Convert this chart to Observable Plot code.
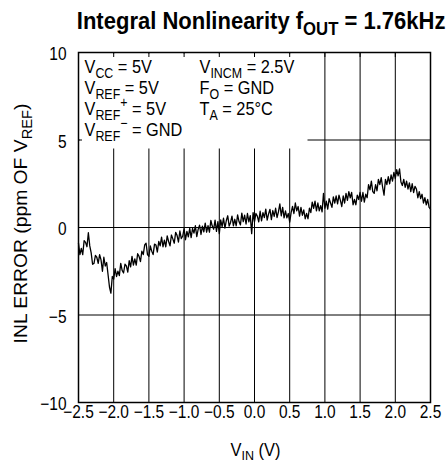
<!DOCTYPE html>
<html><head><meta charset="utf-8">
<script src="https://cdn.jsdelivr.net/npm/d3@7"></script>
<script src="https://cdn.jsdelivr.net/npm/@observablehq/plot@0.6"></script>
<style>
html,body{margin:0;padding:0;background:#fff;}
#chart svg{display:block;}
</style></head><body><div id="chart"></div>
<script>
const title = "Integral Nonlinearity f_{OUT} = 1.76kHz";
const xLabel = "V_{IN} (V)";
const yLabel = "INL ERROR (ppm OF V_{REF})";
const xTicks = [-2.5, -2, -1.5, -1, -0.5, 0, 0.5, 1, 1.5, 2, 2.5];
const yTicks = [-10, -5, 0, 5, 10];
const gridXValues = [-2, -1.5, -1, -0.5, 0, 0.5, 1, 1.5, 2];
const gridYValues = [-5, 0, 5];
const conditionsLeft = ["V_{CC} = 5V", "V_{REF} = 5V", "V_{REF}^{+} = 5V", "V_{REF}^{−} = GND"];
const conditionsRight = ["V_{INCM} = 2.5V", "F_{O} = GND", "T_{A} = 25°C"];
const vinStart = -2.5, vinStep = 0.02;
const inlError = [
  -0.9,-1.55,-1.2,-1.55,-0.75,-0.85,-1.1,-0.3,-1.05,-1.45,
  -2.1,-2.05,-1.6,-1.7,-2.05,-1.55,-1.85,-2.5,-1.7,-2.2,
  -2.0,-2.7,-3.4,-3.75,-2.8,-2.95,-2.35,-2.8,-2.5,-2.75,
  -2.05,-2.45,-2.6,-2.1,-2.2,-2.55,-1.9,-2.25,-1.65,-2.15,
  -1.8,-2.15,-1.5,-1.65,-1.95,-1.35,-1.55,-1.0,-0.9,-1.55,
  -1.65,-1.05,-1.35,-1.55,-0.95,-1.0,-1.4,-0.8,-1.05,-0.55,
  -1.1,-0.72,-1.1,-0.48,-0.8,-1.05,-0.43,-0.65,-0.9,-0.28,
  -0.45,-0.83,-0.2,-0.63,-0.5,-0.07,-0.7,-0.22,-0.53,-0.05,
  -0.58,-0.05,-0.32,0.1,-0.52,-0.1,0.13,-0.4,0.08,-0.25,
  0.25,-0.27,0.1,-0.27,0.4,0.08,-0.1,0.42,-0.22,0.34,
  -0.35,0.43,0.05,0.53,-0.04,0.4,0.67,0.08,0.29,0.65,
  0.1,0.47,0.1,0.72,0.34,0.15,0.82,0.33,0.7,0.2,
  0.8,0.32,0.68,-0.35,0.85,0.33,0.8,0.65,0.32,0.93,
  0.38,0.85,0.57,1.05,0.42,0.78,1.04,0.45,0.97,0.63,
  1.1,0.57,0.89,1.35,0.67,1.15,0.55,0.95,0.55,0.8,
  0.3,0.85,1.2,0.8,1.4,0.95,1.2,0.65,1.15,0.7,
  1.0,0.5,0.8,0.5,1.1,0.85,1.45,1.1,1.5,0.95,
  1.4,0.95,1.25,0.9,1.95,1.1,1.5,1.05,1.65,1.4,
  1.15,1.75,1.4,1.8,1.35,1.85,1.55,1.2,1.8,1.4,
  1.95,1.55,2.05,1.7,2.0,1.3,1.6,1.3,1.85,1.6,
  2.0,1.5,2.0,1.45,1.9,1.7,2.45,2.15,2.65,2.05,
  1.95,2.45,2.1,2.75,2.45,2.85,2.3,1.85,2.75,2.45,
  2.9,2.5,3.0,2.65,3.15,2.8,3.3,2.95,3.35,2.6,
  2.4,2.75,2.3,2.65,2.2,2.55,2.05,2.5,2.0,2.35,
  2.2,1.7,2.05,1.65,1.9,1.4,1.7,1.3,1.6,1.15,
  1.05
];

const data = inlError.map((v, i) => ({vin: vinStart + i * vinStep, inl: v}));
const FONT = '"Liberation Sans",Arial,Helvetica,sans-serif';

const lineMarks = (lines, dx) => lines.map((t, i) =>
  Plot.text([t], {text: d => d, frameAnchor: "top-left", textAnchor: "start", lineAnchor: "bottom",
    dx, dy: 20 + 21 * i, fontSize: 19, fill: "black"}));

const plot = Plot.plot({
  width: 447, height: 466,
  marginTop: 52, marginRight: 17, marginBottom: 64, marginLeft: 78,
  style: {fontFamily: FONT, fontSize: "18px", color: "black", background: "white"},
  x: {domain: [-2.5, 2.5], label: null},
  y: {domain: [-10, 10], label: null},
  marks: [
    Plot.gridX(gridXValues, {stroke: "black", strokeOpacity: 1, strokeWidth: 1}),
    Plot.gridY(gridYValues, {stroke: "black", strokeOpacity: 1, strokeWidth: 1}),
    Plot.frame({fill: "white", stroke: null, insetTop: 1, insetLeft: 1, insetRight: 123, insetBottom: 254}),
    Plot.axisX({anchor: "top", ticks: gridXValues, tickSize: -4, tickFormat: () => "", label: null}),
    Plot.axisY({anchor: "left", ticks: [5], tickSize: -4, tickFormat: () => "", label: null}),
    Plot.axisX({anchor: "bottom", ticks: xTicks, tickSize: 0, tickPadding: 3, label: null, fontSize: 18}),
    Plot.axisY({anchor: "left", ticks: yTicks, tickSize: 0, tickPadding: 12, label: null, dy: 2, fontSize: 18}),
    Plot.line(data, {x: "vin", y: "inl", stroke: "black", strokeWidth: 1.3}),
    Plot.frame({stroke: "black", strokeWidth: 1.5}),
    ...lineMarks(conditionsLeft, 6),
    ...lineMarks(conditionsRight, 121),
    Plot.text([title], {text: d => d, frameAnchor: "top-right", textAnchor: "end", lineAnchor: "bottom",
      dx: 15, dy: -24, fontSize: 24, fontWeight: "bold", fill: "black"}),
    Plot.text([xLabel], {text: d => d, frameAnchor: "bottom", textAnchor: "middle", lineAnchor: "bottom",
      dy: 53, dx: 1, fontSize: 18, fill: "black"}),
    Plot.text([yLabel], {text: d => d, frameAnchor: "left", textAnchor: "middle", rotate: -90, lineAnchor: "middle",
      dx: -58, dy: -4, fontSize: 19, fill: "black"})
  ]
});
document.getElementById("chart").appendChild(plot);

const strip = s => s.replace(/[_^]\{([^}]*)\}/g, "$1");
// target widths (px) for the long labels; other texts get a condensed look
const fitWidths = new Map([[strip(title), 369], [strip(yLabel), 240], [strip(xLabel), 50]]);

d3.select(plot).selectAll("text").each(function () {
  const s = this.textContent;
  const plain = strip(s);
  // turn _{..} and ^{..} markup into sub/superscript tspans
  if (/[_^]\{/.test(s)) {
    const fs = parseFloat(getComputedStyle(this).fontSize) || 17;
    this.textContent = "";
    const re = /([_^])\{([^}]*)\}/g;
    let last = 0, m, cur = 0;
    const add = (txt, off, small) => {
      const t = document.createElementNS("http://www.w3.org/2000/svg", "tspan");
      t.textContent = txt;
      if (off !== cur) t.setAttribute("dy", (off - cur).toFixed(2));
      if (small) t.setAttribute("font-size", (fs * 0.76).toFixed(2));
      cur = off;
      this.appendChild(t);
    };
    while ((m = re.exec(s))) {
      if (m.index > last) add(s.slice(last, m.index), 0, false);
      add(m[2], m[1] === "_" ? fs * 0.27 : -fs * 0.4, true);
      last = re.lastIndex;
    }
    if (last < s.length) add(s.slice(last), 0, false);
    else if (cur !== 0) add("\u200b", 0, false);
  }
  // condense horizontally (the reference uses a condensed face)
  let sx = 0.86;
  if (fitWidths.has(plain)) {
    const w = this.getBBox().width;
    if (w > 0) sx = fitWidths.get(plain) / w;
  }
  const tr = this.getAttribute("transform");
  if (tr) this.setAttribute("transform", `${tr} scale(${sx.toFixed(3)},1)`);
});
</script></body></html>
